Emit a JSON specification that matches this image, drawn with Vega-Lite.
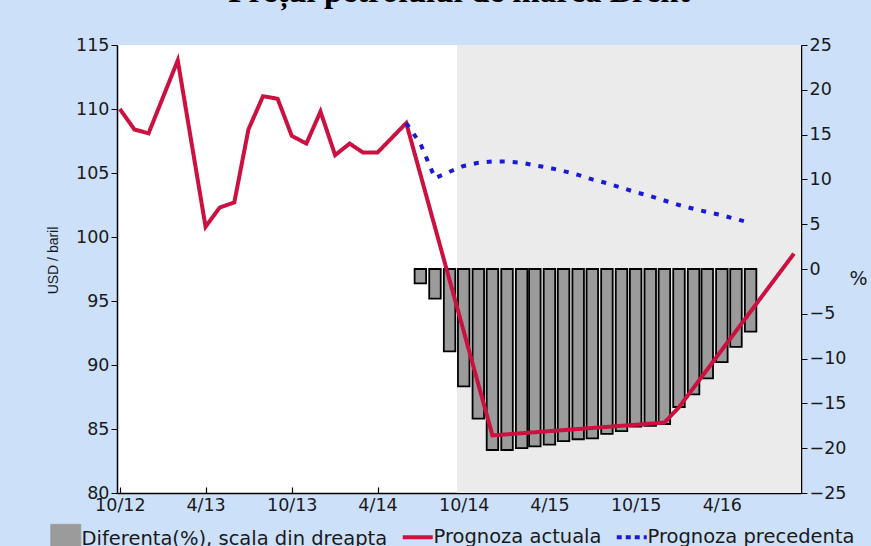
{
  "$schema": "https://vega.github.io/schema/vega-lite/v6.json",
  "width": 684,
  "height": 448,
  "autosize": "none",
  "padding": {"left": 117, "top": 45, "right": 70, "bottom": 53},
  "background": "#cce0fa",
  "config": {
    "view": {"fill": "white", "stroke": null},
    "font": "DejaVu Sans",
    "legend": {
      "orient": "none",
      "legendX": -61,
      "legendY": 482,
      "direction": "horizontal",
      "title": null,
      "symbolSize": 900,
      "labelFont": "DejaVu Sans",
      "labelFontSize": 19.5,
      "labelColor": "#1a1a1a",
      "labelOffset": 6,
      "columnPadding": 6,
      "labelLimit": 400
    }
  },
  "title": {
    "text": "Prețul petrolului de marca Brent",
    "font": "Liberation Serif",
    "fontSize": 33,
    "fontWeight": "bold",
    "color": "black",
    "anchor": "middle",
    "frame": "group",
    "baseline": "alphabetic",
    "offset": 1
  },
  "datasets": {
    "shade": [{"start": "2014-09-17T00:00:00", "end": "2016-09-16T00:00:00"}],
    "bars": [
      {"date": "2014-07-01T00:00:00", "pct": -1.6},
      {"date": "2014-08-01T00:00:00", "pct": -3.3},
      {"date": "2014-09-01T00:00:00", "pct": -9.2},
      {"date": "2014-10-01T00:00:00", "pct": -13.1},
      {"date": "2014-11-01T00:00:00", "pct": -16.7},
      {"date": "2014-12-01T00:00:00", "pct": -20.2},
      {"date": "2015-01-01T00:00:00", "pct": -20.2},
      {"date": "2015-02-01T00:00:00", "pct": -20.0},
      {"date": "2015-03-01T00:00:00", "pct": -19.8},
      {"date": "2015-04-01T00:00:00", "pct": -19.6},
      {"date": "2015-05-01T00:00:00", "pct": -19.2},
      {"date": "2015-06-01T00:00:00", "pct": -19.0},
      {"date": "2015-07-01T00:00:00", "pct": -18.9},
      {"date": "2015-08-01T00:00:00", "pct": -18.4},
      {"date": "2015-09-01T00:00:00", "pct": -18.1},
      {"date": "2015-10-01T00:00:00", "pct": -17.6},
      {"date": "2015-11-01T00:00:00", "pct": -17.5},
      {"date": "2015-12-01T00:00:00", "pct": -17.3},
      {"date": "2016-01-01T00:00:00", "pct": -15.4},
      {"date": "2016-02-01T00:00:00", "pct": -14.0},
      {"date": "2016-03-01T00:00:00", "pct": -12.2},
      {"date": "2016-04-01T00:00:00", "pct": -10.4},
      {"date": "2016-05-01T00:00:00", "pct": -8.7},
      {"date": "2016-06-01T00:00:00", "pct": -7.0}
    ],
    "lines": [
      {"date": "2012-10-01T00:00:00", "value": 110.0, "series": "Prognoza actuala"},
      {"date": "2012-11-01T00:00:00", "value": 108.4, "series": "Prognoza actuala"},
      {"date": "2012-12-01T00:00:00", "value": 108.1, "series": "Prognoza actuala"},
      {"date": "2013-02-01T00:00:00", "value": 113.8, "series": "Prognoza actuala"},
      {"date": "2013-04-01T00:00:00", "value": 100.8, "series": "Prognoza actuala"},
      {"date": "2013-05-01T00:00:00", "value": 102.3, "series": "Prognoza actuala"},
      {"date": "2013-06-01T00:00:00", "value": 102.7, "series": "Prognoza actuala"},
      {"date": "2013-07-01T00:00:00", "value": 108.4, "series": "Prognoza actuala"},
      {"date": "2013-08-01T00:00:00", "value": 111.0, "series": "Prognoza actuala"},
      {"date": "2013-09-01T00:00:00", "value": 110.8, "series": "Prognoza actuala"},
      {"date": "2013-10-01T00:00:00", "value": 107.9, "series": "Prognoza actuala"},
      {"date": "2013-11-01T00:00:00", "value": 107.3, "series": "Prognoza actuala"},
      {"date": "2013-12-01T00:00:00", "value": 109.8, "series": "Prognoza actuala"},
      {"date": "2014-01-01T00:00:00", "value": 106.4, "series": "Prognoza actuala"},
      {"date": "2014-02-01T00:00:00", "value": 107.3, "series": "Prognoza actuala"},
      {"date": "2014-03-01T00:00:00", "value": 106.6, "series": "Prognoza actuala"},
      {"date": "2014-04-01T00:00:00", "value": 106.6, "series": "Prognoza actuala"},
      {"date": "2014-06-01T00:00:00", "value": 108.9, "series": "Prognoza actuala"},
      {"date": "2014-12-01T00:00:00", "value": 84.5, "series": "Prognoza actuala"},
      {"date": "2015-12-01T00:00:00", "value": 85.5, "series": "Prognoza actuala"},
      {"date": "2016-01-01T00:00:00", "value": 86.7, "series": "Prognoza actuala"},
      {"date": "2016-09-01T00:00:00", "value": 98.7, "series": "Prognoza actuala"},
      {"date": "2014-06-01T00:00:00", "value": 108.9, "series": "Prognoza precedenta"},
      {"date": "2014-07-01T00:00:00", "value": 107.3, "series": "Prognoza precedenta"},
      {"date": "2014-08-01T00:00:00", "value": 104.6, "series": "Prognoza precedenta"},
      {"date": "2014-09-01T00:00:00", "value": 105.1, "series": "Prognoza precedenta"},
      {"date": "2014-10-01T00:00:00", "value": 105.55, "series": "Prognoza precedenta"},
      {"date": "2014-11-01T00:00:00", "value": 105.8, "series": "Prognoza precedenta"},
      {"date": "2014-12-01T00:00:00", "value": 105.9, "series": "Prognoza precedenta"},
      {"date": "2015-01-01T00:00:00", "value": 105.9, "series": "Prognoza precedenta"},
      {"date": "2015-02-01T00:00:00", "value": 105.8, "series": "Prognoza precedenta"},
      {"date": "2015-03-01T00:00:00", "value": 105.6, "series": "Prognoza precedenta"},
      {"date": "2015-04-01T00:00:00", "value": 105.4, "series": "Prognoza precedenta"},
      {"date": "2015-05-01T00:00:00", "value": 105.15, "series": "Prognoza precedenta"},
      {"date": "2015-06-01T00:00:00", "value": 104.85, "series": "Prognoza precedenta"},
      {"date": "2015-07-01T00:00:00", "value": 104.5, "series": "Prognoza precedenta"},
      {"date": "2015-08-01T00:00:00", "value": 104.2, "series": "Prognoza precedenta"},
      {"date": "2015-09-01T00:00:00", "value": 103.85, "series": "Prognoza precedenta"},
      {"date": "2015-10-01T00:00:00", "value": 103.5, "series": "Prognoza precedenta"},
      {"date": "2015-11-01T00:00:00", "value": 103.2, "series": "Prognoza precedenta"},
      {"date": "2015-12-01T00:00:00", "value": 102.85, "series": "Prognoza precedenta"},
      {"date": "2016-01-01T00:00:00", "value": 102.5, "series": "Prognoza precedenta"},
      {"date": "2016-02-01T00:00:00", "value": 102.2, "series": "Prognoza precedenta"},
      {"date": "2016-03-01T00:00:00", "value": 101.95, "series": "Prognoza precedenta"},
      {"date": "2016-04-01T00:00:00", "value": 101.7, "series": "Prognoza precedenta"},
      {"date": "2016-05-01T00:00:00", "value": 101.4, "series": "Prognoza precedenta"},
      {"date": "2016-06-01T00:00:00", "value": 101.1, "series": "Prognoza precedenta"}
    ]
  },
  "layer": [
    {
      "data": {"name": "shade"},
      "mark": {"type": "rect", "color": "#ebebeb"},
      "encoding": {
        "x": {
          "field": "start",
          "type": "temporal",
          "scale": {"domain": [{"year": 2012, "month": 9, "date": 25}, {"year": 2016, "month": 9, "date": 16}], "nice": false, "padding": 0},
          "axis": {
            "orient": "bottom",
            "title": null,
            "values": [
              {"year": 2012, "month": 10, "date": 1},
              {"year": 2013, "month": 4, "date": 1},
              {"year": 2013, "month": 10, "date": 1},
              {"year": 2014, "month": 4, "date": 1},
              {"year": 2014, "month": 10, "date": 1},
              {"year": 2015, "month": 4, "date": 1},
              {"year": 2015, "month": 10, "date": 1},
              {"year": 2016, "month": 4, "date": 1}
            ],
            "format": "%-m/%y",
            "grid": false,
            "labelFont": "DejaVu Sans",
            "labelFontSize": 17.5,
            "labelColor": "#1a1a1a",
            "labelFlush": false,
            "labelOverlap": false,
            "tickSize": -6,
            "tickColor": "black",
            "tickWidth": 1.2,
            "domainColor": "black",
            "domainWidth": 1.5,
            "labelPadding": 9
          }
        },
        "x2": {"field": "end"}
      }
    },
    {
      "data": {"name": "bars"},
      "mark": {"type": "bar", "width": 11.5, "stroke": "black", "strokeWidth": 1.8},
      "encoding": {
        "x": {"field": "date", "type": "temporal"},
        "y": {
          "field": "pct",
          "type": "quantitative",
          "scale": {"domain": [-25, 25], "nice": false, "zero": false},
          "axis": {
            "orient": "right",
            "values": [-25, -20, -15, -10, -5, 0, 5, 10, 15, 20, 25],
            "grid": false,
            "title": "%",
            "titleAngle": 0,
            "titleX": 57,
            "titleY": 233,
            "titleAlign": "center",
            "titleBaseline": "middle",
            "titleFont": "DejaVu Sans",
            "titleFontSize": 19,
            "titleFontWeight": "normal",
            "titleColor": "#1a1a1a",
            "labelFont": "DejaVu Sans",
            "labelFontSize": 17.5,
            "labelColor": "#1a1a1a",
            "labelOverlap": false,
            "labelPadding": 2,
            "tickSize": 6,
            "tickColor": "black",
            "domainColor": "black",
            "domainWidth": 1.5
          }
        },
        "color": {
          "datum": "Diferenta(%), scala din dreapta",
          "type": "nominal",
          "scale": {
            "domain": ["Diferenta(%), scala din dreapta", "Prognoza actuala", "Prognoza precedenta"],
            "range": ["#9b9b9b", "#cc1040", "#1a1ad6"]
          },
          "legend": {
            "encode": {
              "symbols": {
                "update": {
                  "shape": {"signal": "datum.value === 'Diferenta(%), scala din dreapta' ? 'square' : 'M-1,-0.9M-1,0L1,0M1,0.9'"},
                  "fill": {"signal": "datum.value === 'Diferenta(%), scala din dreapta' ? '#9b9b9b' : 'transparent'"},
                  "stroke": {"signal": "datum.value === 'Diferenta(%), scala din dreapta' ? '#444444' : (datum.value === 'Prognoza actuala' ? '#cc1040' : '#1a1ad6')"},
                  "strokeWidth": {"signal": "datum.value === 'Diferenta(%), scala din dreapta' ? 1 : 4"},
                  "strokeDash": {"signal": "datum.value === 'Prognoza precedenta' ? [5, 4] : [1, 0]"},
                  "opacity": {"value": 1}
                }
              }
            }
          }
        }
      }
    },
    {
      "mark": {"type": "rule", "color": "black", "strokeWidth": 1.5},
      "encoding": {
        "y": {"datum": 0, "type": "quantitative", "scale": {"domain": [-25, 25], "nice": false, "zero": false}, "axis": null}
      }
    },
    {
      "data": {"name": "lines"},
      "mark": {"type": "line", "strokeWidth": 4},
      "encoding": {
        "x": {"field": "date", "type": "temporal"},
        "y": {
          "field": "value",
          "type": "quantitative",
          "scale": {"domain": [80, 115], "nice": false, "zero": false},
          "axis": {
            "orient": "left",
            "values": [80, 85, 90, 95, 100, 105, 110, 115],
            "grid": false,
            "title": "USD / baril",
            "titleAngle": 270,
            "titleX": -64,
            "titleY": 215,
            "titleAlign": "center",
            "titleBaseline": "middle",
            "titleFont": "Liberation Sans",
            "titleFontSize": 14,
            "titleFontWeight": "normal",
            "titleColor": "#1a1a1a",
            "labelFont": "DejaVu Sans",
            "labelFontSize": 17.5,
            "labelColor": "#1a1a1a",
            "labelOverlap": false,
            "labelPadding": 2,
            "tickSize": 6,
            "tickColor": "black",
            "domainColor": "black",
            "domainWidth": 1.5
          }
        },
        "color": {
          "field": "series",
          "type": "nominal",
          "legend": {
            "encode": {
              "symbols": {
                "update": {
                  "shape": {"signal": "datum.value === 'Diferenta(%), scala din dreapta' ? 'square' : 'M-1,-0.9M-1,0L1,0M1,0.9'"},
                  "fill": {"signal": "datum.value === 'Diferenta(%), scala din dreapta' ? '#9b9b9b' : 'transparent'"},
                  "stroke": {"signal": "datum.value === 'Diferenta(%), scala din dreapta' ? '#444444' : (datum.value === 'Prognoza actuala' ? '#cc1040' : '#1a1ad6')"},
                  "strokeWidth": {"signal": "datum.value === 'Diferenta(%), scala din dreapta' ? 1 : 4"},
                  "strokeDash": {"signal": "datum.value === 'Prognoza precedenta' ? [5, 4] : [1, 0]"},
                  "opacity": {"value": 1}
                }
              }
            }
          }
        },
        "strokeDash": {
          "field": "series",
          "type": "nominal",
          "scale": {"domain": ["Prognoza actuala", "Prognoza precedenta"], "range": [[1, 0], [5, 8]]},
          "legend": null
        }
      }
    }
  ],
  "resolve": {"scale": {"y": "independent"}}
}
